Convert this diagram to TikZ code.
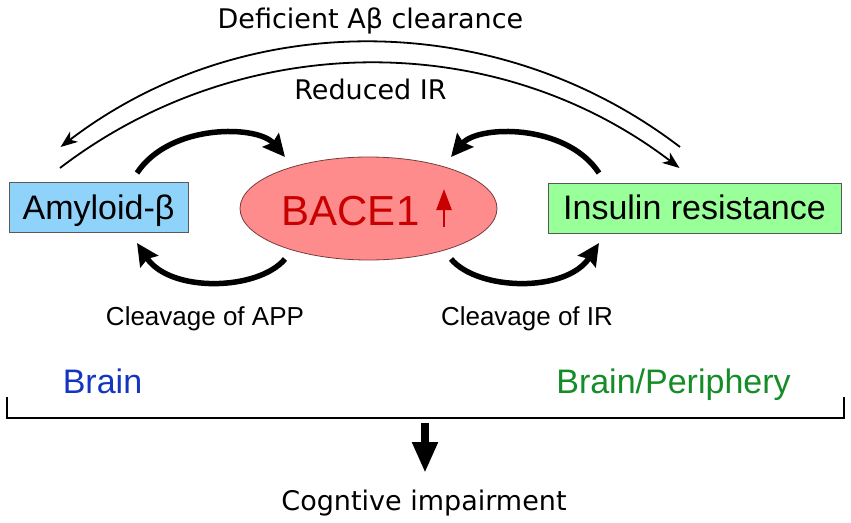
\documentclass[tikz,border=0pt]{standalone}
\usepackage{fontspec}
\setmainfont{Liberation Sans}
\newfontfamily\djv{DejaVu Sans}
\usetikzlibrary{arrows.meta,shapes.geometric}
\definecolor{amyfill}{RGB}{143,211,250}
\definecolor{insfill}{RGB}{153,255,153}
\definecolor{elfill}{RGB}{255,140,140}
\definecolor{elline}{RGB}{120,60,60}
\definecolor{bacered}{RGB}{200,0,0}
\definecolor{brainblue}{RGB}{21,53,192}
\definecolor{braingreen}{RGB}{20,140,40}
\begin{document}
\begin{tikzpicture}[x=1pt,y=-1pt,
  lbl/.style={inner sep=0pt, anchor=base, font=\djv\fontsize{27}{30}\selectfont},
  cleavelbl/.style={inner sep=0pt, anchor=base, font=\fontsize{26}{30}\selectfont},
  regionlbl/.style={inner sep=0pt, anchor=base, font=\fontsize{34}{40}\selectfont},
  boxnode/.style={draw=black!65, line width=1pt, inner sep=0pt, minimum height=50pt,
    text height=36.5pt, text depth=13.5pt, font=\fontsize{34}{40}\selectfont},
  thickarrow/.style={line width=5.5pt, -{Stealth[length=22pt,width=21pt,inset=3pt]}},
  thinarrow/.style={line width=1.8pt, -{Stealth[length=17pt,width=13pt,inset=5pt]}},
]
\useasboundingbox (0,0) rectangle (851,522);

% main nodes
\node[boxnode, fill=amyfill, minimum width=179pt] (amy) at (98.5,207.5) {Amyloid-β};
\node[boxnode, fill=insfill, minimum width=293pt] (ins) at (694.5,208) {Insulin resistance};
\node[ellipse, draw=elline, line width=0.8pt, fill=elfill, minimum width=257pt,
      minimum height=103pt, inner sep=0pt] (bace) at (368.5,208.5) {};
\node[inner sep=0pt, anchor=base, font=\fontsize{42}{48}\selectfont, text=bacered]
      (bacetxt) at (350.5,225) {BACE1};
\coordinate (up1) at (444,227);
\coordinate (up2) at (444,189);
\draw[bacered, line width=2.5pt, -{Triangle[length=21pt,width=15pt]}] (up1) -- (up2);

% labels
\node[lbl] (defic) at (370.5,28) {Deficient Aβ clearance};
\node[lbl] (redir) at (370.5,99) {Reduced IR};
\node[cleavelbl] (clapp) at (205,325) {Cleavage of APP};
\node[cleavelbl] (clir) at (527,325) {Cleavage of IR};
\node[regionlbl, text=brainblue] (brain) at (102.5,393) {Brain};
\node[regionlbl, text=braingreen] (brper) at (673.5,393) {Brain/Periphery};
\node[lbl] (cog) at (424,510) {Cogntive impairment};

% big arcs
\coordinate (o1) at (680,147);
\draw[thinarrow] (o1) arc[start angle=-52.6, end angle=-127.4, radius=510];
\coordinate (i1) at (60,168);
\draw[thinarrow] (i1) arc[start angle=-127.4, end angle=-52.6, radius=510];

% curved thick arrows
\coordinate (tl1) at (137,173); \coordinate (tl2) at (285,157);
\draw[thickarrow] (tl1) .. controls (170,123) and (258,125) .. (tl2);
\coordinate (tr1) at (599,173); \coordinate (tr2) at (451,157);
\draw[thickarrow] (tr1) .. controls (566,123) and (478,125) .. (tr2);
\coordinate (bl1) at (285,259); \coordinate (bl2) at (137,243);
\draw[thickarrow] (bl1) .. controls (258,291) and (170,293) .. (bl2);
\coordinate (br1) at (451,259); \coordinate (br2) at (599,243);
\draw[thickarrow] (br1) .. controls (478,291) and (566,293) .. (br2);

% bracket
\coordinate (bk1) at (7,397); \coordinate (bk2) at (844,397);
\draw[line width=2.5pt] (bk1) -- (7,418) -- (844,418) -- (bk2);
\coordinate (dn1) at (425,423); \coordinate (dn2) at (425,473);
\draw[line width=8pt, -{Triangle[length=31pt,width=24pt]}] (dn1) -- (dn2);
\end{tikzpicture}
\end{document}
